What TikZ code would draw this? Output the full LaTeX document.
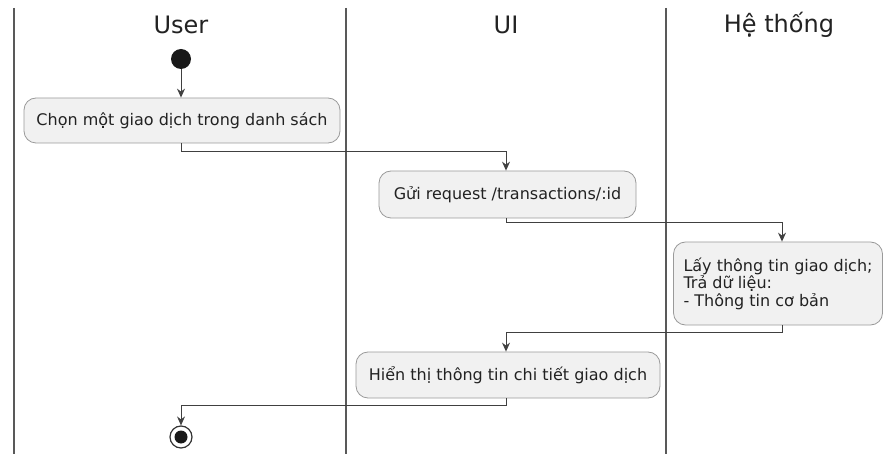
\documentclass[tikz,border=0pt]{standalone}
\usepackage{fontspec}
\setmainfont{DejaVu Sans}
\usetikzlibrary{arrows.meta}
\definecolor{boxfill}{HTML}{F1F1F1}
\definecolor{boxline}{HTML}{9A9A9A}
\definecolor{ink}{HTML}{222222}
\begin{document}
\begin{tikzpicture}[x=1pt,y=-1pt,
  lane/.style={draw=black!65,line width=1.6pt},
  title/.style={font=\fontsize{24}{26}\selectfont,text=ink},
  act/.style={draw=boxline,fill=boxfill,rounded corners=12pt,line width=0.8pt,
    font=\fontsize{16}{17.5}\selectfont,text=ink,inner sep=0pt},
  flow/.style={draw=black!75,line width=0.9pt,-{Stealth[length=9pt,width=8pt,inset=3pt]}}]
\useasboundingbox (0,0) rectangle (886,454);
\fill[white] (0,0) rectangle (886,454);
% swimlane separators
\draw[lane] (14,8) -- (14,454);
\draw[lane] (346,8) -- (346,454);
\draw[lane] (666,8) -- (666,454);
% lane titles
\node[title] (tuser) at (181,25) {User};
\node[title] (tui) at (506,25) {UI};
\node[title] (tsys) at (779,25) {Hệ thống};
% start and end points
\node[circle,fill=black!90,minimum size=20pt,inner sep=0pt] (start) at (181,59) {};
\node[circle,draw=black!80,line width=1.2pt,fill=white,minimum size=22pt,inner sep=0pt] (stop) at (181,437) {};
\node[circle,fill=black!90,minimum size=13pt,inner sep=0pt] (stopdot) at (181,437) {};
% activities
\node[act,minimum width=316pt,minimum height=45pt] (b1) at (182,120.5) {Chọn một giao dịch trong danh sách};
\node[act,minimum width=257pt,minimum height=47pt] (b2) at (507.5,194.5) {Gửi request /transactions/:id};
\node[act,minimum width=209pt,minimum height=83pt,align=left] (b3) at (778,283.5)
  {Lấy thông tin giao dịch;\\Trả dữ liệu:\\- Thông tin cơ bản};
\node[act,minimum width=304pt,minimum height=46pt] (b4) at (508,375) {Hiển thị thông tin chi tiết giao dịch};
% junction points of the flow
\coordinate (j1) at (181,151);
\coordinate (j2) at (506,222);
\coordinate (j3) at (782,332);
\coordinate (j4) at (506,405);
% control flow
\draw[flow] (start) -- (start |- b1.north);
\draw[flow] (b1.south -| j1) -- (j1) -| (b2.north -| j2);
\draw[flow] (b2.south -| j2) -- (j2) -| (b3.north -| j3);
\draw[flow] (b3.south -| j3) -- (j3) -| (b4.north -| j4);
\draw[flow] (b4.south -| j4) -- (j4) -| (stop.north);
\end{tikzpicture}
\end{document}
